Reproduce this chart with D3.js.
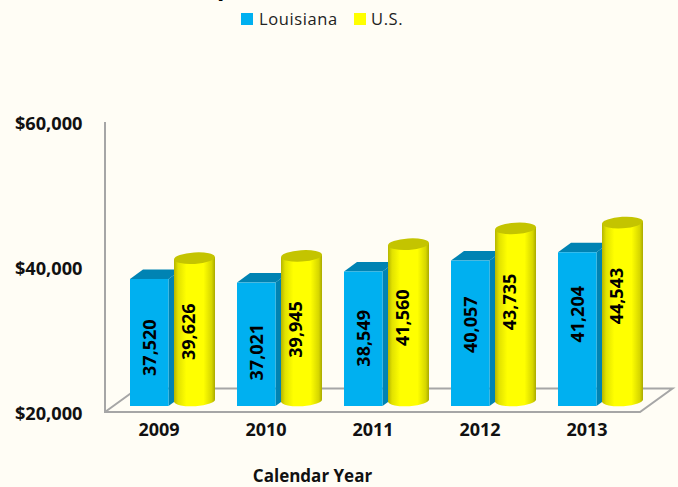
<!DOCTYPE html>
<html><head><meta charset="utf-8">
<script src="https://cdn.jsdelivr.net/npm/d3@7"></script>
<style>html,body{margin:0;padding:0;background:#fffdf5;overflow:hidden}svg{display:block}text{font-family:"Open Sans",sans-serif}</style>
</head><body><svg id="c" width="678" height="487"></svg>
<script>
const years=["2009","2010","2011","2012","2013"];
const louisiana=[37520,37021,38549,40057,41204];
const us=[39626,39945,41560,43735,44543];
const yTicks=[20000,40000,60000];
const seriesNames=["Louisiana","U.S."];
const xTitle="Calendar Year";

const svg=d3.select("#c");
const W=678,H=487;
const y=d3.scaleLinear().domain([20000,60000]).range([412,122]);
const x=d3.scaleBand().domain(years).range([105,640]);
const fmt=d3.format(",");
const defs=svg.append("defs");
const g=defs.append("linearGradient").attr("id","cyl");
[[0,"#b5b500"],[0.1,"#e2e200"],[0.3,"#ffff00"],[0.72,"#ffff00"],[0.92,"#d6d600"],[1,"#a9a900"]]
  .forEach(s=>g.append("stop").attr("offset",s[0]).attr("stop-color",s[1]));

svg.append("rect").attr("width",W).attr("height",H).attr("fill","#fffdf5");
// clipped title remnant
svg.append("text").attr("x",217).attr("y",-5).attr("font-size",24).attr("font-weight",700).attr("fill","#000").text("p");

// floor and wall
const grid="#a6a6a6",dx=32.5,dy=23.5,fy=y(20000),fl=x.range()[0],fr=x.range()[1];
const line=d3.line();
svg.append("path").attr("d",line([[fl,y(60000)],[fl,fy],[fr,fy],[fr+dx,fy-dy],[fl+dx,fy-dy],[fl,fy]]))
  .attr("fill","none").attr("stroke",grid).attr("stroke-width",2);

// axes
const ya=d3.axisLeft(y).tickValues(yTicks).tickSize(0).tickPadding(0).tickFormat(d=>"$"+fmt(d));
svg.append("g").attr("transform","translate(82.5,1.5)").call(ya).call(a=>a.select(".domain").remove())
  .selectAll("text").attr("font-family",'"Open Sans",sans-serif').attr("font-size",18.2).attr("font-weight",700).attr("fill","#111");
const xa=d3.axisBottom(x).tickSize(0).tickPadding(0);
svg.append("g").attr("transform","translate(0.5,423)").call(xa).call(a=>a.select(".domain").remove())
  .selectAll("text").attr("font-family",'"Open Sans",sans-serif').attr("font-size",18).attr("font-weight",700).attr("fill","#111");

// bars
const bx=-28.5,bw=38.5,ddx=13,ddy=9.5,frontBase=6,cx=36,rx=20.5,ry=5.7,cylBase=11.5;
years.forEach((yr,i)=>{
  const c=x(yr)+x.bandwidth()/2, l=c+bx, r=l+bw, t=y(louisiana[i])-frontBase, b=fy-frontBase;
  svg.append("path").attr("d",line([[r,t],[r+ddx,t-ddy],[r+ddx,b-ddy],[r,b]])+"Z").attr("fill","#0083b3");
  svg.append("path").attr("d",line([[l,t],[l+ddx,t-ddy],[r+ddx,t-ddy],[r,t]])+"Z").attr("fill","#0083b3");
  svg.append("rect").attr("x",l).attr("y",t).attr("width",bw).attr("height",b-t).attr("fill","#00b0f0");
  svg.append("text").attr("transform",`translate(${(l+r)/2-0.5},${y(louisiana[i])+60+(39000-louisiana[i])*0.0018}) rotate(-90)`)
    .attr("text-anchor","middle").attr("dominant-baseline","central")
    .attr("font-size",18).attr("font-weight",700).attr("fill","#000").text(fmt(louisiana[i]));
  const k=c+cx, tc=y(us[i])-cylBase, bc=fy-cylBase, tilt=1.3;
  svg.append("path").attr("d",`M${k-rx},${tc+tilt}L${k-rx},${bc+tilt}A${rx},${ry} -3 0 0 ${k+rx},${bc-tilt}L${k+rx},${tc-tilt}Z`).attr("fill","url(#cyl)");
  svg.append("ellipse").attr("cx",0).attr("cy",0).attr("rx",rx).attr("ry",ry)
    .attr("transform",`translate(${k},${tc}) rotate(-3.5)`).attr("fill","#c4c400");
  svg.append("text").attr("transform",`translate(${k-6.5},${y(us[i])+62}) rotate(-90)`)
    .attr("text-anchor","middle").attr("dominant-baseline","central")
    .attr("font-size",18).attr("font-weight",700).attr("fill","#000").text(fmt(us[i]));
});

// legend
const lg=[[241,"#00b0f0",259],[354,"#ffff00",371]];
seriesNames.forEach((n,i)=>{
  svg.append("rect").attr("x",lg[i][0]).attr("y",13).attr("width",12).attr("height",12).attr("fill",lg[i][1]);
  svg.append("text").attr("x",lg[i][2]).attr("y",25).attr("font-size",16.5).attr("fill","#222").attr("letter-spacing",0.6).text(n);
});
svg.append("text").attr("x",312.5).attr("y",482).attr("text-anchor","middle").attr("font-size",17).attr("font-weight",700).attr("fill","#111").text(xTitle);
</script></body></html>
